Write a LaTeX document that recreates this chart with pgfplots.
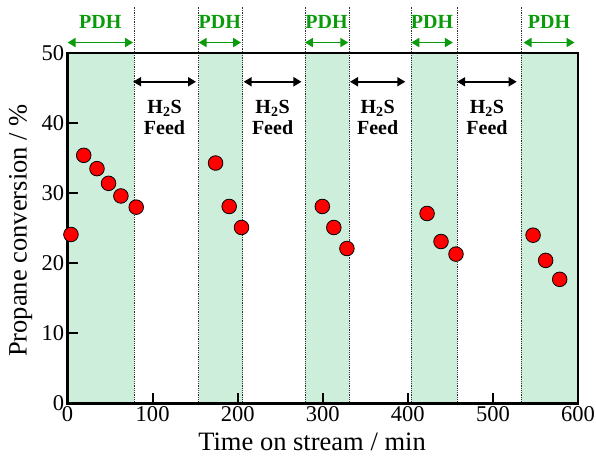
\documentclass[border=0pt]{standalone}
\usepackage{pgfplots}
\pgfplotsset{compat=1.18}
\usepackage{fontspec}
\setmainfont{Liberation Serif}
\usetikzlibrary{arrows.meta}
\definecolor{pdhfill}{RGB}{204,238,218}
\definecolor{pdhgreen}{RGB}{10,155,10}
\tikzset{
  bnd/.style={densely dotted, line width=0.8pt, black!80},
  dbl/.style={line width=1.8pt, {Triangle[length=8pt,width=9pt]}-{Triangle[length=8pt,width=9pt]}},
  pdh/.style={pdhgreen, font=\fontsize{20}{24}\selectfont\bfseries},
  feed/.style={black, align=center, font=\fontsize{20}{21}\selectfont\bfseries},
}

\begin{document}
\begin{tikzpicture}
\begin{axis}[
  scale only axis,
  width=510pt, height=350pt,
  xmin=0, xmax=600, ymin=0, ymax=50,
  xtick={0,100,...,600}, ytick={0,10,...,50},
  tick align=inside, tick pos=left,
  major tick length=10pt,
  tick style={line width=2.2pt, black},
  axis line style={line width=2.4pt},
  axis on top,
  clip=false,
  /pgf/number format/assume math mode=true,
  ticklabel style={font=\fontsize{22.5}{26}\selectfont},
  label style={font=\fontsize{26.5}{30}\selectfont},
  xlabel={Time on stream / min},
  ylabel={Propane conversion / \%},
  xlabel style={at={(axis description cs:0.479,-0.134)}, anchor=base},
  ylabel style={at={(axis description cs:-0.080,0.493)}, anchor=base},
]
% PDH periods
\addplot [fill=pdhfill, draw=none] coordinates {(0,0) (0,50) (78,50) (78,0)} -- cycle;
\addplot [fill=pdhfill, draw=none] coordinates {(154,0) (154,50) (206,50) (206,0)} -- cycle;
\addplot [fill=pdhfill, draw=none] coordinates {(279,0) (279,50) (331,50) (331,0)} -- cycle;
\addplot [fill=pdhfill, draw=none] coordinates {(404,0) (404,50) (458,50) (458,0)} -- cycle;
\addplot [fill=pdhfill, draw=none] coordinates {(533,0) (533,50) (600,50) (600,0)} -- cycle;

% period boundaries
\draw [bnd] (axis cs:0,0) -- (axis cs:0,50);
\draw [bnd] (axis cs:78,0) -- (axis cs:78,56.6);
\draw [bnd] (axis cs:154,0) -- (axis cs:154,56.6);
\draw [bnd] (axis cs:206,0) -- (axis cs:206,56.6);
\draw [bnd] (axis cs:279,0) -- (axis cs:279,56.6);
\draw [bnd] (axis cs:331,0) -- (axis cs:331,56.6);
\draw [bnd] (axis cs:404,0) -- (axis cs:404,56.6);
\draw [bnd] (axis cs:458,0) -- (axis cs:458,56.6);
\draw [bnd] (axis cs:533,0) -- (axis cs:533,56.6);

% PDH arrows
\draw [dbl, pdhgreen] (axis cs:0,51.5) -- (axis cs:77,51.5);
\draw [dbl, pdhgreen] (axis cs:154,51.5) -- (axis cs:204,51.5);
\draw [dbl, pdhgreen] (axis cs:279,51.5) -- (axis cs:330,51.5);
\draw [dbl, pdhgreen] (axis cs:404,51.5) -- (axis cs:453,51.5);
\draw [dbl, pdhgreen] (axis cs:536,51.5) -- (axis cs:596,51.5);
\node [pdh] at (axis cs:38.5,54.4) {PDH};
\node [pdh] at (axis cs:179,54.4) {PDH};
\node [pdh] at (axis cs:304.5,54.4) {PDH};
\node [pdh] at (axis cs:428.5,54.4) {PDH};
\node [pdh] at (axis cs:566,54.4) {PDH};

% H2S feed arrows
\draw [dbl, black] (axis cs:77,45.9) -- (axis cs:151,45.9);
\draw [dbl, black] (axis cs:207,45.9) -- (axis cs:275,45.9);
\draw [dbl, black] (axis cs:332,45.9) -- (axis cs:397,45.9);
\draw [dbl, black] (axis cs:458,45.9) -- (axis cs:528,45.9);
\node [feed] at (axis cs:114,40.8) {H\textsubscript{2}S\\Feed};
\node [feed] at (axis cs:241,40.8) {H\textsubscript{2}S\\Feed};
\node [feed] at (axis cs:364.5,40.8) {H\textsubscript{2}S\\Feed};
\node [feed] at (axis cs:493,40.8) {H\textsubscript{2}S\\Feed};

\addplot [only marks, mark=*, mark size=7.3pt, mark options={fill=red, draw=black, line width=0.8pt}]
table {%
4 24.1
19 35.4
34.6 33.5
48.2 31.4
62.7 29.6
80.7 28.0
174 34.3
190 28.1
204.5 25.1
299.5 28.1
313 25.1
328.4 22.1
422.6 27.1
439 23.1
456.6 21.3
547.2 24.0
562 20.4
578.5 17.7
};

\coordinate (bl) at (rel axis cs:0,0);
\coordinate (tr) at (rel axis cs:1,1);
\end{axis}
\pgfresetboundingbox
\path [use as bounding box] ([shift={(-67.5pt,-56pt)}]bl) rectangle ([shift={(18pt,53pt)}]tr);
\end{tikzpicture}
\end{document}
